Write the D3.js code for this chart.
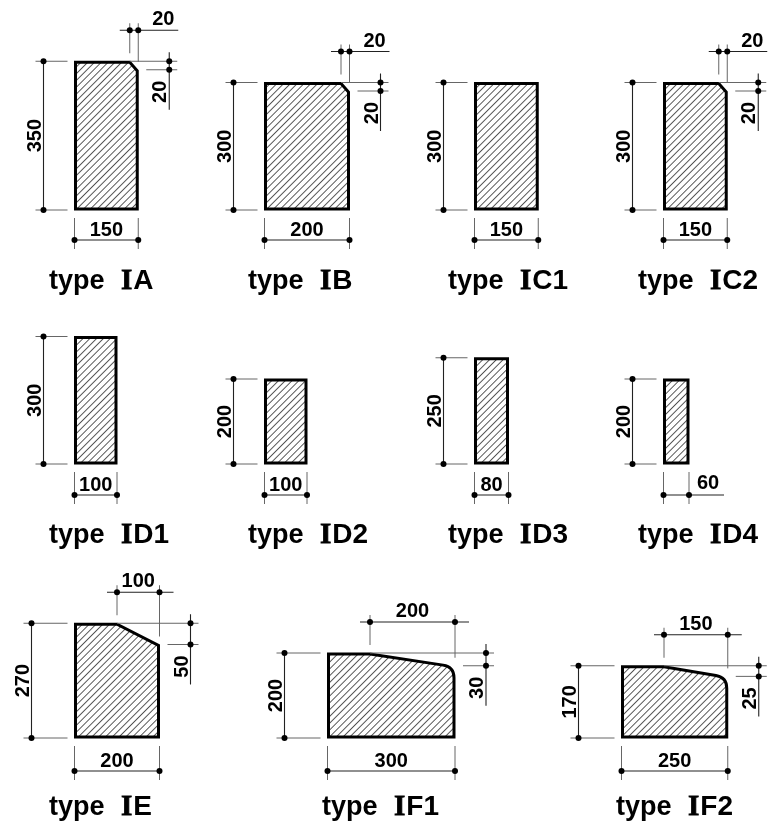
<!DOCTYPE html>
<html><head><meta charset="utf-8">
<script src="https://cdn.jsdelivr.net/npm/d3@7"></script>
<style>html,body{margin:0;background:#fff}svg{display:block;filter:blur(0.35px)}</style>
</head><body><div id="c"></div>
<script>
// ---- data (millimetres)
const names    = ["A","B","C1","C2","D1","D2","D3","D4","E","F1","F2"];
const widths   = [150,200,150,150,100,100,80,60,200,300,250];
const heights  = [350,300,300,300,300,200,250,200,270,200,170];
const chamferX = [20,20,0,20,0,0,0,0,100,200,150];
const chamferY = [20,20,0,20,0,0,0,0,50,30,25];
const rounded  = ["F1","F2"];
// ---- layout (kept apart from the data)
const originX  = [74.5,264.5,474.5,663.5,74.5,264.5,474.5,663.5,74.5,327.5,621.5];
const titleX   = [49,248,448,638,49,248,448,638,49,322,616];
const rows     = [0,0,0,0,1,1,1,1,2,2,2];
const rowBase  = [210,464,738];
const rowTitle = [289,543,815];
const rowLeft  = [31,31,43];
const rowBelow = [30,31,33];

const W=768,H=826;
const u=d3.scaleLinear().domain([0,300]).range([0,127.5]);
const svg=d3.select("#c").append("svg").attr("width",W).attr("height",H).attr("viewBox",[0,0,W,H]);
const defs=svg.append("defs");
const pat=defs.append("pattern").attr("id","hatch").attr("patternUnits","userSpaceOnUse")
  .attr("width",4.8).attr("height",4.8).attr("patternTransform","rotate(45)");
pat.append("line").attr("x1",0).attr("x2",0).attr("y1",0).attr("y2",4.8)
  .attr("stroke","#222").attr("stroke-width",1.5);

const FONT="'Liberation Sans',Arial,sans-serif";
function seg(g,x1,y1,x2,y2,col,w){g.append("line").attr("x1",x1).attr("y1",y1).attr("x2",x2).attr("y2",y2)
  .attr("stroke",col||"#222").attr("stroke-width",w||1.1);}
function ext(g,x1,y1,x2,y2){seg(g,x1,y1,x2,y2,"#666",1);}
function dot(g,x,y){g.append("circle").attr("cx",x).attr("cy",y).attr("r",3).attr("fill","#000");}
function num(g,x,y,t,rot,anchor){
  const s=g.append("text").text(t).attr("font-family",FONT).attr("font-size",20)
    .attr("font-weight","bold").attr("fill","#000").attr("text-anchor",anchor||"middle");
  if(rot) s.attr("transform",`translate(${x},${y}) rotate(-90)`).attr("dy","0.36em");
  else s.attr("x",x).attr("y",y);
}

names.forEach((name,i)=>{
  const g=svg.append("g");
  const r=rows[i], base=rowBase[r], left=originX[i];
  const right=left+u(widths[i]), top=base-u(heights[i]);
  const cx=u(chamferX[i]), cy=u(chamferY[i]);
  const x1=right-cx, y2=top+cy;
  const ins=1;

  // section outline
  const p=d3.path();
  p.moveTo(left+ins,base-ins); p.lineTo(left+ins,top+ins);
  if(cx>0){
    p.lineTo(x1,top+ins);
    if(rounded.includes(name)){
      const rr=11, len=Math.hypot(cx,cy);
      p.lineTo(right-ins-rr*cx/len,y2-rr*cy/len+ins);
      p.quadraticCurveTo(right-ins,y2+ins,right-ins,y2+rr+ins);
    } else p.lineTo(right-ins,y2+ins);
  } else p.lineTo(right-ins,top+ins);
  p.lineTo(right-ins,base-ins); p.closePath();
  g.append("path").attr("d",p.toString()).attr("fill","url(#hatch)")
    .attr("stroke","#000").attr("stroke-width",3).attr("stroke-linejoin","miter");

  // height dimension
  const dx=left-rowLeft[r];
  ext(g,dx-8,top,left-7,top); ext(g,dx-8,base,left-7,base);
  seg(g,dx,top,dx,base);
  dot(g,dx,top); dot(g,dx,base);
  num(g,dx-10,(top+base)/2,heights[i],true);

  // width dimension
  const dy=base+rowBelow[r];
  ext(g,left,base+8,left,dy+9); ext(g,right,base+8,right,dy+9);
  const outside=widths[i]<=60;
  seg(g,left,dy,outside?right+35:right,dy);
  dot(g,left,dy); dot(g,right,dy);
  if(outside) num(g,right+8,dy-6,widths[i],false,"start");
  else num(g,(left+right)/2,dy-4,widths[i]);

  // chamfer dimensions
  if(cx>0){
    const ty=top-31, narrow=cx<20;
    ext(g,x1,ty-7,x1,top-8); ext(g,right,ty-7,right,y2-8);
    seg(g,x1-10,ty,narrow?right+40:right+14,ty);
    dot(g,x1,ty); dot(g,right,ty);
    if(narrow) num(g,right+14,ty-5,chamferX[i],false,"start");
    else num(g,(x1+right)/2,ty-5,chamferX[i]);
    const rx=right+31;
    ext(g,x1,top,rx+8,top); ext(g,right+8,y2,rx+8,y2);
    seg(g,rx,top-9,rx,y2+40);
    dot(g,rx,top); dot(g,rx,y2);
    num(g,rx-10,y2+22,chamferY[i],true);
  }

  // title
  const t=g.append("text").attr("x",titleX[i]).attr("y",rowTitle[r])
    .attr("font-family",FONT).attr("font-weight","bold").attr("font-size",27).attr("fill","#000");
  t.append("tspan").text("type");
  t.append("tspan").attr("x",titleX[i]+72).attr("font-family","'Liberation Serif',serif")
    .attr("font-size",29).attr("stroke","#000").attr("stroke-width",0.8).text("I");
  t.append("tspan").attr("dx",1).attr("font-size",28).text(name);
});
</script></body></html>
